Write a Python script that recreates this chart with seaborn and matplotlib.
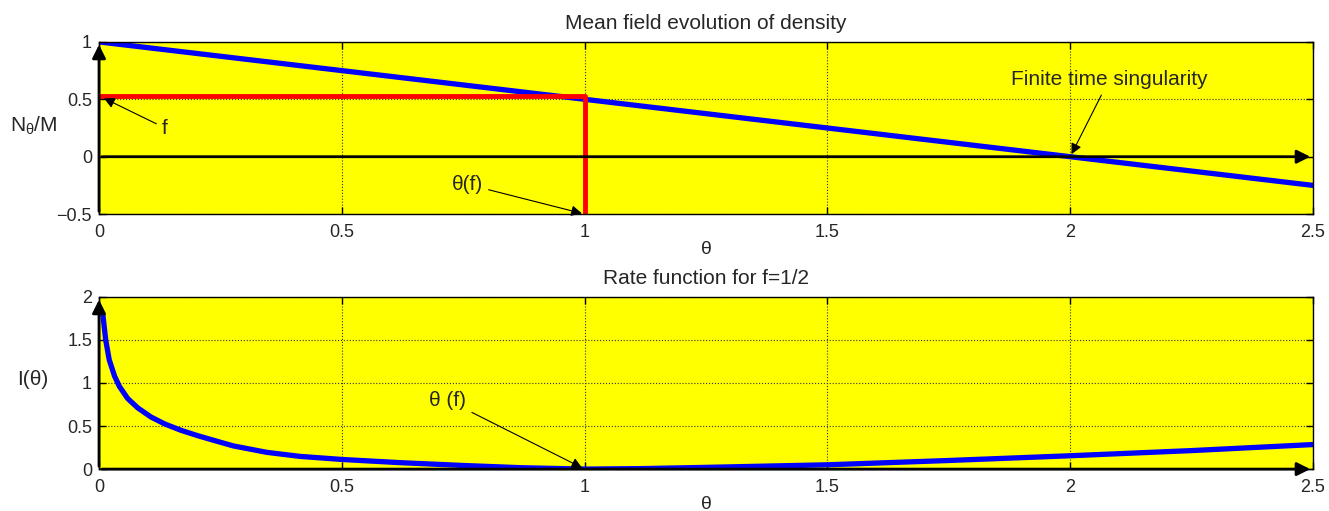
import numpy as np
import matplotlib
matplotlib.use("Agg")
import matplotlib.pyplot as plt
import seaborn as sns

sns.set_style("ticks")
plt.rcParams['font.family'] = ['Liberation Sans', 'DejaVu Sans']
plt.rcParams['mathtext.fontset'] = 'custom'
plt.rcParams['mathtext.rm'] = 'Liberation Sans'
plt.rcParams['mathtext.it'] = 'Liberation Sans'

# mean field density (top panel)
theta_top = [0.0, 2.5]
density = [1.0, -0.25]
# f marker path: horizontal at f then down to theta(f)
red_x = [0.0, 1.0, 1.0]
red_y = [0.53, 0.53, -0.5]

# rate function for f=1/2 (bottom panel)
theta_rate = [0.008, 0.0138, 0.021, 0.032, 0.042, 0.059, 0.080, 0.107, 0.135,
              0.169, 0.205, 0.240, 0.276, 0.345, 0.413, 0.5, 0.619, 0.75, 0.87,
              1.0, 1.12, 1.25, 1.5, 1.75, 2.0, 2.25, 2.5]
rate = [1.79, 1.50, 1.27, 1.08, 0.96, 0.82, 0.71, 0.605, 0.525,
        0.45, 0.385, 0.328, 0.27, 0.195, 0.148, 0.112, 0.075, 0.042, 0.016,
        0.0, 0.006, 0.02, 0.05, 0.10, 0.155, 0.215, 0.285]

xticks = [0, 0.5, 1, 1.5, 2, 2.5]
yticks_top = [-0.5, 0, 0.5, 1]
yticks_bot = [0, 0.5, 1, 1.5, 2]

fig = plt.figure(figsize=(13.29, 5.11), dpi=100)
ax1 = fig.add_axes([0.0745, 0.581, 0.9135, 0.337])
ax2 = fig.add_axes([0.0745, 0.082, 0.9135, 0.337])


def style(ax, yticks):
    ax.set_facecolor('yellow')
    ax.set_xlim(0, 2.5)
    ax.set_ylim(yticks[0], yticks[-1])
    ax.set_xticks(xticks)
    ax.set_xticklabels([f'{v:g}' for v in xticks])
    ax.set_yticks(yticks)
    ax.set_yticklabels([f'{v:g}'.replace('-', '\u2212') for v in yticks])
    ax.tick_params(axis='both', direction='in', length=5, width=1, top=True,
                   right=True, labelsize=13, color='black')
    ax.tick_params(axis='x', pad=7)
    ax.tick_params(axis='y', pad=5)
    ax.grid(True, linestyle=':', color='#333333', linewidth=0.8)
    for s in ax.spines.values():
        s.set_color('black')
        s.set_linewidth(1)
        s.set_visible(True)


style(ax1, yticks_top)
style(ax2, yticks_bot)

sns.lineplot(x=theta_top, y=density, ax=ax1, color='blue', linewidth=3.8)
sns.lineplot(x=red_x, y=red_y, ax=ax1, color='red', linewidth=3.5,
             sort=False, estimator=None)

arrow = dict(arrowstyle='-|>', color='black', lw=2, mutation_scale=20)
ax1.annotate('', xy=(0, 1), xytext=(0, -0.5), arrowprops=arrow, annotation_clip=False)
ax1.annotate('', xy=(2.5, 0), xytext=(0, 0), arrowprops=arrow, annotation_clip=False)

thin = dict(arrowstyle='-|>', color='black', lw=0.8, mutation_scale=16)
ax1.annotate('f', xy=(0.005, 0.52), xytext=(0.13, 0.25), fontsize=15,
             ha='left', va='center', arrowprops=thin)
ax1.annotate('\u03b8(f)', xy=(1.0, -0.5), xytext=(0.79, -0.24), fontsize=15,
             ha='right', va='center', arrowprops=thin)
ax1.annotate('Finite time singularity', xy=(2.0, 0.0), xytext=(2.08, 0.67),
             fontsize=15, ha='center', va='center', arrowprops=thin)

ax1.set_title('Mean field evolution of density', fontsize=15, pad=9)
ax1.set_xlabel('\u03b8', fontsize=14, labelpad=0)
ax1.set_ylabel(r'N$_\mathrm{\theta}$/M', fontsize=15, rotation=0, ha='right',
               va='center')
ax1.yaxis.set_label_coords(-0.034, 0.51)

sns.lineplot(x=theta_rate, y=rate, ax=ax2, color='blue', linewidth=3.8,
             sort=False, estimator=None)
ax2.annotate('', xy=(0, 2), xytext=(0, 0), arrowprops=arrow, annotation_clip=False)
ax2.annotate('', xy=(2.5, 0), xytext=(0, 0), arrowprops=arrow, annotation_clip=False)
ax2.annotate('\u03b8 (f)', xy=(1.0, 0.0), xytext=(0.756, 0.8), fontsize=15,
             ha='right', va='center', arrowprops=thin)

ax2.set_title('Rate function for f=1/2', fontsize=15, pad=9)
ax2.set_xlabel('\u03b8', fontsize=14, labelpad=0)
ax2.set_ylabel('I(\u03b8)', fontsize=15, rotation=0, ha='right', va='center')
ax2.yaxis.set_label_coords(-0.042, 0.52)

fig.savefig('out.png', dpi=100)
